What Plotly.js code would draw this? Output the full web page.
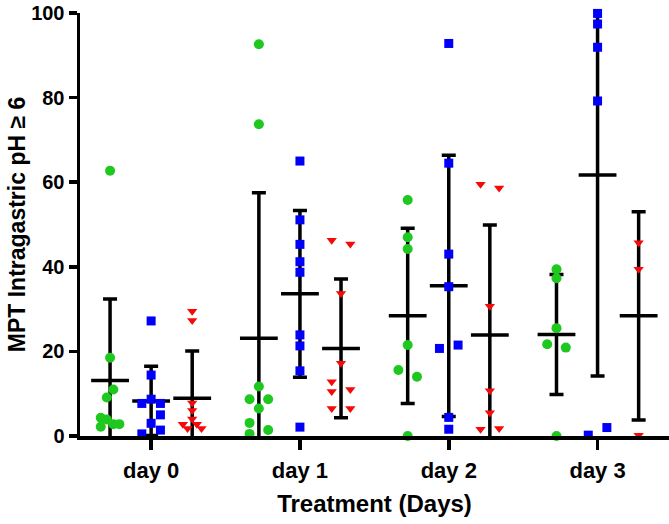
<!DOCTYPE html>
<html>
<head>
<meta charset="utf-8">
<script src="https://cdn.plot.ly/plotly-3.0.1.min.js"></script>
<style>html,body{margin:0;padding:0;background:#fff;}</style>
</head>
<body>
<div id="chart" style="width:669px;height:524px;"></div>
<script>
// Categories
const days = ['day 0', 'day 1', 'day 2', 'day 3'];
const yTicks = [0, 20, 40, 60, 80, 100];

// Series values per day
const greenValues = [
  [62.7, 18.5, 11.0, 9.1, 4.3, 3.9, 2.8, 2.2, 2.8],
  [92.6, 73.7, 11.7, 8.7, 8.7, 6.5, 3.1, 1.4, 0.5],
  [55.8, 47.0, 44.2, 21.5, 15.6, 14.0, 0.0],
  [39.4, 37.3, 25.5, 21.7, 20.9, 0.0]
];
const blueValues = [
  [27.2, 14.4, 8.7, 7.7, 7.7, 5.0, 3.0, 1.4, 0.5],
  [65.0, 51.1, 45.3, 41.2, 38.7, 23.9, 21.3, 15.4, 2.1],
  [92.8, 64.5, 43.0, 35.3, 21.5, 20.7, 4.4, 1.6],
  [99.9, 97.4, 91.9, 79.2, 2.0, 0.2]
];
const redValues = [
  [29.5, 27.3, 7.8, 6.0, 4.0, 2.8, 2.8, 1.8, 1.8],
  [46.3, 45.4, 33.7, 17.2, 12.8, 11.0, 10.5, 6.5, 6.5],
  [59.5, 58.6, 30.7, 10.7, 5.5, 1.8, 1.6],
  [45.7, 39.4, 0.2]
];

// Horizontal scatter columns of each point (dot-plot jitter)
const greenJitter = [
  [0, 0, 0.35, -0.35, -1, -0.35, 0.35, -1, 1],
  [0, 0, 0, -1, 1, 0, -1, 1, -1],
  [0, 0, 0, 0, -1, 1, 0],
  [0, 0, 0, -1, 1, 0]
];
const blueJitter = [
  [0, 0, 0, -1, 1, 1, 0, 1, -1],
  [0, 0, 0, 0, 0, 0, 0, 0, 0],
  [0, 0, 0, 0, 1, -1, 0, 0],
  [0, 0, 0, 0, 1, -1]
];
const redJitter = [
  [0, 0, 0, 0, 0, -1, 0.5, -0.5, 1],
  [-1, 1, 0, 0, -1, 1, -1, -1, 1],
  [-1, 1, 0, 0, 0, 1, -1],
  [0, 0, 0]
];

// Mean and SD per day
const greenMean = [13.1, 23.1, 28.4, 24.0];
const greenSD = [19.3, 34.4, 20.7, 14.2];
const blueMean = [8.3, 33.6, 35.5, 61.7];
const blueSD = [8.2, 19.7, 30.9, 47.5];
const redMean = [8.9, 20.7, 23.9, 28.4];
const redSD = [11.2, 16.4, 26.0, 24.6];

// ---- build traces ----
const groupOffset = 0.276;
const jitterUnit = 0.0625;

function pointsTrace(values, jitter, offset, color, symbol, size) {
  const xs = [], ys = [];
  values.forEach((arr, d) => {
    arr.forEach((v, i) => {
      xs.push(d + offset + jitter[d][i] * jitterUnit);
      ys.push(v);
    });
  });
  return {
    type: 'scatter', mode: 'markers', x: xs, y: ys,
    cliponaxis: false, hoverinfo: 'y',
    marker: { color: color, symbol: symbol, size: size, line: { width: 0 } }
  };
}

function meanTrace(means, sds, offset) {
  return {
    type: 'scatter', mode: 'markers',
    x: means.map((m, d) => d + offset), y: means,
    cliponaxis: true, hoverinfo: 'y',
    marker: { symbol: 'line-ew', size: 27, color: 'black', line: { width: 3.5, color: 'black' } },
    error_y: { type: 'data', array: sds, symmetric: true, color: 'black', thickness: 3.5, width: 7 }
  };
}

const data = [
  meanTrace(greenMean, greenSD, -groupOffset),
  meanTrace(blueMean, blueSD, 0),
  meanTrace(redMean, redSD, groupOffset),
  pointsTrace(greenValues, greenJitter, -groupOffset, 'rgb(30,200,30)', 'circle', 10),
  pointsTrace(blueValues, blueJitter, 0, 'rgb(0,0,250)', 'square', 9),
  pointsTrace(redValues, redJitter, groupOffset, 'rgb(245,10,10)', 'triangle-down', 9)
];

const fontFamily = '"Liberation Sans", Arial, sans-serif';

const layout = {
  width: 669, height: 524,
  margin: { l: 80, r: 0, t: 13, b: 88 },
  paper_bgcolor: 'white', plot_bgcolor: 'white',
  showlegend: false,
  font: { family: fontFamily, color: 'black' },
  xaxis: {
    range: [-0.478, 3.48],
    tickmode: 'array', tickvals: days.map((d, i) => i), ticktext: days,
    ticks: 'outside', ticklen: 10, tickwidth: 3.5, tickcolor: 'black',
    ticklabelstandoff: 2,
    showline: true, linewidth: 3.5, linecolor: 'black',
    showgrid: false, zeroline: false,
    tickfont: { family: fontFamily, size: 22, color: 'black', weight: 'bold' },
    title: { text: 'Treatment (Days)', font: { family: fontFamily, size: 24, color: 'black', weight: 'bold' }, standoff: 14 }
  },
  yaxis: {
    range: [0, 100],
    tickmode: 'array', tickvals: yTicks,
    ticks: 'outside', ticklen: 8, tickwidth: 3.5, tickcolor: 'black',
    showline: true, linewidth: 3.5, linecolor: 'black',
    showgrid: false, zeroline: false,
    tickfont: { family: fontFamily, size: 20, color: 'black', weight: 'bold' },
    title: { text: 'MPT Intragastric pH ≥ 6', font: { family: fontFamily, size: 23, color: 'black', weight: 'bold' }, standoff: 0 }
  }
};

Plotly.newPlot('chart', data, layout, { staticPlot: true, displayModeBar: false });
</script>
</body>
</html>
